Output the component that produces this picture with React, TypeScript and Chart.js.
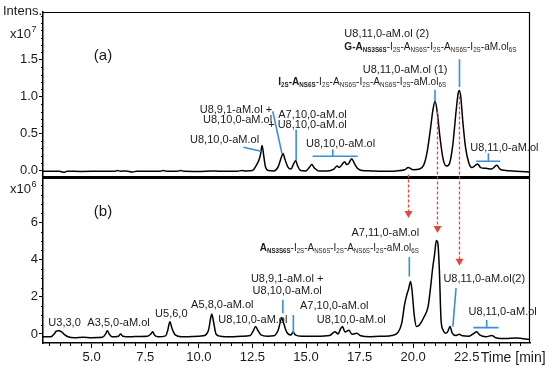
import React, { useEffect, useRef } from 'react';
import { Chart, registerables } from 'chart.js';

Chart.register(...registerables);

// ---------- DATA ----------
// Time [min] / intensity pairs, panel (a) in units of 1e7
const TRACE_A: number[][] = [
  [2.73, -0.01], [3.5, -0.01], [3.7, -0.025], [3.85, -0.01], [4.5, -0.012], [5.5, -0.01],
  [6.1, -0.01], [6.2, 0.0], [6.35, -0.01], [6.6, -0.005], [6.9, -0.02], [7.1, -0.01],
  [7.5, -0.01], [8.2, -0.01], [8.35, 0.0], [8.5, -0.01], [9.0, -0.01], [9.15, 0.0],
  [9.3, -0.01], [10.0, -0.012], [10.6, -0.005], [11.0, -0.01], [11.8, -0.01], [12.0, 0.0],
  [12.2, -0.005], [12.5, 0.0], [12.7, 0.08], [12.8, 0.14], [12.88, 0.22], [12.95, 0.34],
  [13.02, 0.22], [13.1, 0.06], [13.25, 0.0], [13.5, -0.005], [13.7, 0.05], [13.85, 0.18],
  [13.93, 0.23], [14.0, 0.17], [14.15, 0.05], [14.3, 0.02], [14.42, 0.09], [14.52, 0.135],
  [14.6, 0.07], [14.75, 0.0], [15.0, -0.005], [15.15, 0.04], [15.27, 0.08], [15.4, 0.03],
  [15.6, -0.005], [16.0, -0.005], [16.3, 0.02], [16.45, 0.06], [16.55, 0.04], [16.7, 0.09],
  [16.8, 0.12], [16.9, 0.08], [17.0, 0.1], [17.13, 0.16], [17.25, 0.1], [17.4, 0.03],
  [17.6, 0.0], [18.0, -0.005], [18.5, -0.01], [19.2, -0.005], [19.6, 0.01], [19.77, 0.04],
  [20.0, 0.01], [20.3, 0.02], [20.5, 0.08], [20.65, 0.25], [20.8, 0.55], [20.92, 0.82],
  [21.02, 0.94], [21.12, 0.8], [21.25, 0.45], [21.4, 0.15], [21.55, 0.06], [21.7, 0.1],
  [21.85, 0.35], [22.0, 0.8], [22.1, 1.05], [22.15, 1.085], [22.22, 1.0], [22.32, 0.65],
  [22.45, 0.3], [22.6, 0.1], [22.75, 0.04], [23.0, 0.09], [23.15, 0.04], [23.4, 0.03],
  [23.65, 0.02], [23.9, 0.07], [24.05, 0.02], [24.3, 0.0], [24.8, -0.01], [25.45, -0.02],
];

// panel (b) in units of 1e6
const TRACE_B: number[][] = [
  [2.73, -0.15], [3.1, -0.15], [3.25, 0.0], [3.35, 0.15], [3.45, 0.18], [3.6, 0.12],
  [3.75, -0.05], [3.9, -0.15], [4.2, -0.2], [4.6, -0.18], [5.0, -0.2], [5.5, -0.18],
  [5.65, 0.0], [5.73, 0.18], [5.82, 0.0], [5.95, -0.15], [6.25, -0.12], [6.35, 0.0],
  [6.45, -0.12], [6.8, -0.15], [7.2, -0.13], [7.6, -0.12], [7.78, 0.02], [7.85, 0.12],
  [7.93, -0.05], [8.1, -0.15], [8.45, -0.1], [8.55, 0.2], [8.65, 0.66], [8.75, 0.3],
  [8.9, -0.05], [9.2, -0.15], [9.7, -0.14], [10.2, -0.1], [10.45, 0.2], [10.55, 0.85],
  [10.6, 1.08], [10.68, 0.7], [10.8, 0.0], [11.0, -0.12], [11.5, -0.15], [12.0, -0.12],
  [12.4, -0.08], [12.55, 0.2], [12.65, 0.4], [12.75, 0.2], [12.9, -0.05], [13.2, -0.12],
  [13.5, -0.1], [13.7, 0.2], [13.87, 0.85], [13.95, 0.6], [14.1, 0.1], [14.3, -0.05],
  [14.4, 0.12], [14.5, -0.05], [14.8, -0.12], [15.5, -0.12], [16.1, -0.08], [16.35, 0.12],
  [16.5, 0.0], [16.6, 0.25], [16.7, 0.4], [16.82, 0.1], [17.0, 0.2], [17.15, -0.02],
  [17.37, 0.04], [17.55, -0.1], [18.0, -0.15], [18.6, -0.12], [19.0, -0.08], [19.3, 0.1],
  [19.47, 0.6], [19.6, 1.6], [19.7, 2.1], [19.78, 2.4], [19.88, 2.83], [19.95, 2.3],
  [20.05, 1.0], [20.15, 0.4], [20.3, 0.5], [20.5, 0.9], [20.7, 1.5], [20.82, 2.6],
  [20.9, 3.46], [21.0, 4.3], [21.08, 5.03], [21.15, 4.9], [21.22, 3.5], [21.3, 0.76],
  [21.4, 0.2], [21.5, 0.04], [21.6, 0.1], [21.72, 0.4], [21.82, 0.05], [22.0, -0.08],
  [22.15, -0.02], [22.3, -0.1], [22.6, -0.12], [22.85, 0.05], [22.96, 0.12], [23.1, -0.05],
  [23.4, -0.15], [23.67, -0.08], [23.85, -0.2], [24.3, -0.25], [24.8, -0.22], [25.45, -0.3],
];

const X_TICKS = [5, 7.5, 10, 12.5, 15, 17.5, 20, 22.5];
const X_TICK_LABELS = ['5.0', '7.5', '10.0', '12.5', '15.0', '17.5', '20.0', '22.5'];
const Y_TOP_TICKS = [0, 0.5, 1.0, 1.5];
const Y_TOP_LABELS = ['0.0', '0.5', '1.0', '1.5'];
const Y_BOT_TICKS = [0, 2, 4, 6];
const Y_BOT_LABELS = ['0', '2', '4', '6'];

// Annotation labels anchored in data coordinates (time, intensity); w = fitted text width
type Label = { t: number; v: number; text: string; align: string; w?: number };
const LABELS_A: Label[] = [
  { t: 9.59, v: 0.419, text: 'U8,10,0-aM.ol', align: 'left' },
  { t: 13.42, v: 0.824, text: 'U8,9,1-aM.ol +', align: 'right' },
  { t: 13.42, v: 0.68, text: 'U8,10,0-aM.ol', align: 'right' },
  { t: 16.9, v: 0.757, text: 'A7,10,0-aM.ol', align: 'right' },
  { t: 16.9, v: 0.622, text: '+ U8,10,0-aM.ol', align: 'right' },
  { t: 15.0, v: 0.365, text: 'U8,10,0-aM.ol', align: 'left' },
  { t: 21.6, v: 1.365, text: 'U8,11,0-aM.ol (1)', align: 'right' },
  { t: 13.7, v: 1.207, text: '*I_{2S}-A_{NS6S}*-I_{2S}-A_{NS6S}-I_{2S}-A_{NS6S}-I_{2S}-aM.ol_{6S}', align: 'left', w: 168 },
  { t: 16.79, v: 1.851, text: 'U8,11,0-aM.ol (2)', align: 'left' },
  { t: 16.79, v: 1.68, text: '*G-A_{NS3S6S}*-I_{2S}-A_{NS6S}-I_{2S}-A_{NS6S}-I_{2S}-aM.ol_{6S}', align: 'left', w: 172 },
  { t: 22.66, v: 0.307, text: 'U8,11,0-aM.ol', align: 'left' },
];
const LABELS_B: Label[] = [
  { t: 2.98, v: 0.578, text: 'U3,3,0', align: 'left' },
  { t: 4.8, v: 0.578, text: 'A3,5,0-aM.ol', align: 'left' },
  { t: 7.96, v: 1.081, text: 'U5,6,0', align: 'left' },
  { t: 9.64, v: 1.568, text: 'A5,8,0-aM.ol', align: 'left' },
  { t: 10.91, v: 0.757, text: 'U8,10,0-aM.ol', align: 'left' },
  { t: 14.12, v: 2.957, text: 'U8,9,1-aM.ol +', align: 'center' },
  { t: 14.12, v: 2.324, text: 'U8,10,0-aM.ol', align: 'center' },
  { t: 14.72, v: 1.53, text: 'A7,10,0-aM.ol', align: 'left' },
  { t: 15.5, v: 0.757, text: 'U8,10,0-aM.ol', align: 'left' },
  { t: 20.28, v: 5.443, text: 'A7,11,0-aM.ol', align: 'right' },
  { t: 20.26, v: 4.632, text: '*A_{NS3S6S}*-I_{2S}-A_{NS6S}-I_{2S}-A_{NS6S}-I_{2S}-aM.ol_{6S}', align: 'right', w: 159 },
  { t: 21.41, v: 2.957, text: 'U8,11,0-aM.ol(2)', align: 'left' },
  { t: 22.58, v: 1.205, text: 'U8,11,0-aM.ol', align: 'left' },
];
// Blue leader segments [t1, v1, t2, v2]
const LEADERS_A = [
  [12.08, 0.315, 12.9, 0.261],
  [13.45, 0.801, 13.88, 0.23],
  [14.54, 0.554, 14.54, 0.135],
  [15.31, 0.193, 17.41, 0.193],
  [16.25, 0.284, 16.25, 0.193],
  [21.02, 1.095, 21.02, 0.936],
  [22.16, 1.509, 22.16, 1.131],
  [22.94, 0.126, 24.06, 0.126],
  [23.51, 0.234, 23.51, 0.126],
];
const LEADERS_B = [
  [13.92, 1.838, 13.92, 1.119],
  [14.41, 1.027, 14.41, 0.038],
  [19.82, 4.146, 19.82, 3.097],
  [22.0, 2.47, 21.85, 0.395],
  [22.81, 0.341, 23.98, 0.341],
  [23.43, 0.757, 23.43, 0.341],
];
// Red dashed arrows: [time, start intensity in (a), tip intensity in (b)]
const ARROWS = [
  [19.78, -0.054, 6.25],
  [21.1, 0.8, 5.44],
  [22.14, 1.004, 3.68],
];

// ---------- STYLE ----------
const NARROW = '"Liberation Sans Narrow", "Arial Narrow", "Liberation Sans", Arial, sans-serif';
const SANS = '"Liberation Sans", Arial, sans-serif';
const BLUE = '#3A8FD6';
const RED = '#E5463A';
const TEXT = '#1a1a1a';

type Seg = { s: string; b: boolean; sub: boolean };
function parseRich(src: string): Seg[] {
  const out: Seg[] = [];
  let bold = false;
  let i = 0;
  let buf = '';
  const flush = () => {
    if (buf) out.push({ s: buf, b: bold, sub: false });
    buf = '';
  };
  while (i < src.length) {
    const c = src[i];
    if (c === '*') {
      flush();
      bold = !bold;
      i++;
    } else if (c === '_' && src[i + 1] === '{') {
      flush();
      const end = src.indexOf('}', i);
      out.push({ s: src.slice(i + 2, end), b: bold, sub: true });
      i = end + 1;
    } else {
      buf += c;
      i++;
    }
  }
  flush();
  return out;
}

function drawRich(
  ctx: CanvasRenderingContext2D,
  text: string,
  x: number,
  y: number,
  align: string,
  size: number,
  fitW?: number
) {
  const segs = parseRich(text);
  const subSize = size * 0.62;
  const fontOf = (g: Seg) => `${g.b ? 'bold ' : ''}${g.sub ? subSize : size}px ${NARROW}`;
  let total = 0;
  const widths = segs.map((g) => {
    ctx.font = fontOf(g);
    const w = ctx.measureText(g.s).width;
    total += w;
    return w;
  });
  const f = fitW ? fitW / total : 1;
  const shown = total * f;
  const sx = align === 'right' ? x - shown : align === 'center' ? x - shown / 2 : x;
  ctx.save();
  ctx.translate(sx, y);
  ctx.scale(f, 1);
  ctx.textAlign = 'left';
  ctx.textBaseline = 'middle';
  let cx = 0;
  segs.forEach((g, k) => {
    ctx.font = fontOf(g);
    ctx.fillText(g.s, cx, g.sub ? size * 0.3 : 0);
    cx += widths[k];
  });
  ctx.restore();
}

const overlay = {
  id: 'overlay',
  afterDraw(chart: any) {
    const ctx: CanvasRenderingContext2D = chart.ctx;
    const xs = chart.scales.x;
    const ya = chart.scales.yTop;
    const yb = chart.scales.yBot;
    const { left, right } = chart.chartArea;
    ctx.save();

    // frames
    ctx.strokeStyle = '#000';
    ctx.lineWidth = 1.2;
    ctx.beginPath();
    ctx.moveTo(left, ya.top + 0.5);
    ctx.lineTo(right, ya.top + 0.5);
    ctx.moveTo(right - 0.5, ya.top);
    ctx.lineTo(right - 0.5, yb.bottom);
    ctx.stroke();
    ctx.lineWidth = 3;
    ctx.beginPath();
    ctx.moveTo(left, ya.bottom);
    ctx.lineTo(right, ya.bottom);
    ctx.stroke();

    // minor ticks
    ctx.lineWidth = 1;
    ctx.beginPath();
    for (let k = 0; k <= 21; k++) {
      const r = k / 10;
      if (Y_TOP_TICKS.includes(r)) continue;
      const p = Math.round(ya.getPixelForValue(r)) + 0.5;
      ctx.moveTo(left - 2, p);
      ctx.lineTo(left, p);
    }
    for (let v = 0; v <= 8; v += 0.5) {
      if (Y_BOT_TICKS.includes(v)) continue;
      const p = Math.round(yb.getPixelForValue(v)) + 0.5;
      ctx.moveTo(left - 2, p);
      ctx.lineTo(left, p);
    }
    for (let t = 3; t <= 25; t += 0.5) {
      if (X_TICKS.includes(t)) continue;
      const p = Math.round(xs.getPixelForValue(t)) + 0.5;
      ctx.moveTo(p, xs.top);
      ctx.lineTo(p, xs.top + 3);
    }
    ctx.stroke();

    // axis titles
    ctx.fillStyle = TEXT;
    ctx.textBaseline = 'middle';
    ctx.textAlign = 'left';
    ctx.font = `13px ${SANS}`;
    ctx.fillText('Intens.', 3, ya.top - 1);
    const drawPow = (y: number, exp: string) => {
      ctx.font = `13px ${SANS}`;
      ctx.textAlign = 'left';
      ctx.fillText('x10', 10, y);
      const w = ctx.measureText('x10').width;
      ctx.font = `9px ${SANS}`;
      ctx.fillText(exp, 10 + w + 0.5, y - 5);
    };
    drawPow(ya.getPixelForValue(1.84), '7');
    drawPow(yb.getPixelForValue(7.8), '6');
    ctx.font = `14px ${SANS}`;
    ctx.fillText('Time [min]', xs.getPixelForValue(22.5) + 14, xs.top + 15.5);

    // panel letters
    ctx.font = `15px ${SANS}`;
    ctx.textAlign = 'center';
    ctx.fillText('(a)', xs.getPixelForValue(5.53), ya.getPixelForValue(1.554));
    ctx.fillText('(b)', xs.getPixelForValue(5.53), yb.getPixelForValue(6.557));

    // labels
    ctx.fillStyle = TEXT;
    LABELS_A.forEach((l) =>
      drawRich(ctx, l.text, xs.getPixelForValue(l.t), ya.getPixelForValue(l.v), l.align, 11, l.w)
    );
    LABELS_B.forEach((l) =>
      drawRich(ctx, l.text, xs.getPixelForValue(l.t), yb.getPixelForValue(l.v), l.align, 11, l.w)
    );

    // leaders
    ctx.strokeStyle = BLUE;
    ctx.lineWidth = 1.6;
    ctx.beginPath();
    LEADERS_A.forEach(([t1, v1, t2, v2]) => {
      ctx.moveTo(xs.getPixelForValue(t1), ya.getPixelForValue(v1));
      ctx.lineTo(xs.getPixelForValue(t2), ya.getPixelForValue(v2));
    });
    LEADERS_B.forEach(([t1, v1, t2, v2]) => {
      ctx.moveTo(xs.getPixelForValue(t1), yb.getPixelForValue(v1));
      ctx.lineTo(xs.getPixelForValue(t2), yb.getPixelForValue(v2));
    });
    ctx.stroke();

    // red dashed arrows
    ARROWS.forEach(([t, va, vb]) => {
      const x = Math.round(xs.getPixelForValue(t)) + 0.5;
      const y1 = ya.getPixelForValue(va);
      const y2 = yb.getPixelForValue(vb);
      ctx.strokeStyle = RED;
      ctx.lineWidth = 1.3;
      ctx.setLineDash([3, 2]);
      ctx.beginPath();
      ctx.moveTo(x, y1);
      ctx.lineTo(x, y2 - 6);
      ctx.stroke();
      ctx.setLineDash([]);
      ctx.fillStyle = RED;
      ctx.beginPath();
      ctx.moveTo(x - 4, y2 - 7);
      ctx.lineTo(x + 4, y2 - 7);
      ctx.lineTo(x, y2);
      ctx.closePath();
      ctx.fill();
    });
    ctx.restore();
  },
};

export default function App() {
  const ref = useRef<HTMLCanvasElement | null>(null);
  useEffect(() => {
    if (!ref.current) return;
    const tickFont = { family: NARROW, size: 13 };
    const chart = new Chart(ref.current, {
      type: 'line',
      data: {
        datasets: [
          {
            data: TRACE_B.map(([x, y]) => ({ x, y })),
            yAxisID: 'yBot',
            borderColor: '#000',
            borderWidth: 1.5,
            pointRadius: 0,
            cubicInterpolationMode: 'monotone',
          },
          {
            data: TRACE_A.map(([x, y]) => ({ x, y })),
            yAxisID: 'yTop',
            borderColor: '#000',
            borderWidth: 1.5,
            pointRadius: 0,
            cubicInterpolationMode: 'monotone',
          },
        ],
      },
      options: {
        responsive: false,
        animation: false,
        devicePixelRatio: 1,
        layout: { padding: { left: 0, right: 20, top: 12, bottom: 0 } },
        plugins: { legend: { display: false }, tooltip: { enabled: false } },
        scales: {
          x: {
            type: 'linear',
            min: 2.73,
            max: 25.45,
            afterBuildTicks: (s: any) => {
              s.ticks = X_TICKS.map((v) => ({ value: v }));
            },
            afterFit: (s: any) => {
              s.height = 29;
            },
            ticks: {
              autoSkip: false,
              maxRotation: 0,
              font: tickFont,
              color: TEXT,
              padding: 2,
              callback: (v: any) => X_TICK_LABELS[X_TICKS.indexOf(Number(v))] ?? '',
            },
            grid: { drawOnChartArea: false, drawTicks: true, tickLength: 5, color: '#000', tickWidth: 1 },
            border: { display: true, color: '#000', width: 1.5 },
          },
          yBot: {
            type: 'linear',
            position: 'left',
            stack: 'panels',
            stackWeight: 1,
            min: -0.486,
            max: 8.43,
            afterBuildTicks: (s: any) => {
              s.ticks = Y_BOT_TICKS.map((v) => ({ value: v }));
            },
            afterFit: (s: any) => {
              s.width = 43;
            },
            ticks: {
              font: tickFont,
              color: TEXT,
              padding: 1,
              callback: (v: any) => Y_BOT_LABELS[Y_BOT_TICKS.indexOf(Number(v))] ?? '',
            },
            grid: { drawOnChartArea: false, drawTicks: true, tickLength: 4, color: '#000' },
            border: { display: true, color: '#000', width: 1.5 },
          },
          yTop: {
            type: 'linear',
            position: 'left',
            stack: 'panels',
            stackWeight: 1,
            min: -0.0946,
            max: 2.149,
            afterBuildTicks: (s: any) => {
              s.ticks = Y_TOP_TICKS.map((v) => ({ value: v }));
            },
            afterFit: (s: any) => {
              s.width = 43;
            },
            ticks: {
              font: tickFont,
              color: TEXT,
              padding: 1,
              callback: (v: any) => Y_TOP_LABELS[Y_TOP_TICKS.indexOf(Number(v))] ?? '',
            },
            grid: { drawOnChartArea: false, drawTicks: true, tickLength: 4, color: '#000' },
            border: { display: true, color: '#000', width: 1.5 },
          },
        },
      } as any,
      plugins: [overlay],
    });
    return () => chart.destroy();
  }, []);
  return (
    <div style={{ position: 'fixed', left: 0, top: 0, width: 550, height: 372, background: '#fff' }}>
      <canvas ref={ref} width={550} height={372} />
    </div>
  );
}
